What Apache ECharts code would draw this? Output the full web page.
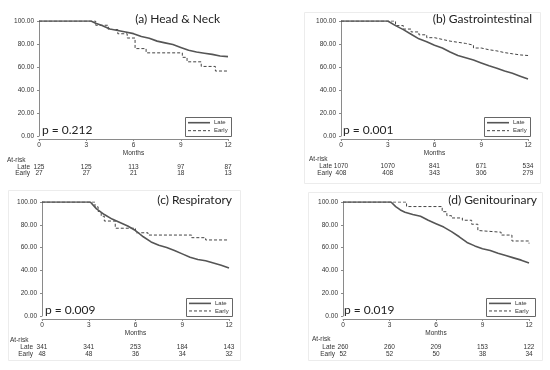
<!DOCTYPE html>
<html><head><meta charset="utf-8">
<script src="https://cdn.jsdelivr.net/npm/echarts@6/dist/echarts.min.js"></script>
<style>html,body{margin:0;padding:0;background:#fff}#c{width:550px;height:370px}</style>
</head><body><div id="c"></div>
<script>
// ---- Data ----
const panelTitles = ['(a) Head & Neck', '(b) Gastrointestinal', '(c) Respiratory', '(d) Genitourinary'];
const pValues = ['p = 0.212', 'p = 0.001', 'p = 0.009', 'p = 0.019'];
const xTicks = [0, 3, 6, 9, 12];

// (a) Head & Neck
const aLateMonths = [0, 3.3, 3.6, 4.0, 4.5, 5.0, 5.5, 6.0, 6.5, 7.0, 7.5, 8.0, 8.5, 9.0, 9.5, 10.0, 10.5, 11.0, 11.5, 12];
const aLateSurv   = [100, 100, 98, 96, 93, 91.8, 90.5, 89, 86.5, 85, 82.5, 81, 79.5, 77, 74.5, 73, 72, 71, 69.5, 69];
const aEarlyMonths = [0, 3.6, 4.4, 5.0, 5.6, 6.1, 6.8, 9.1, 9.4, 10.3, 11.2, 12];
const aEarlySurv   = [100, 96.3, 92.6, 88.9, 85.2, 76, 72.3, 68.4, 64.5, 60.5, 56.5, 56.5];
const aRiskLate  = [125, 125, 113, 97, 87];
const aRiskEarly = [27, 27, 21, 18, 13];

// (b) Gastrointestinal
const bLateMonths = [0, 3, 3.5, 4, 4.5, 5, 5.5, 6, 6.5, 7, 7.5, 8, 8.5, 9, 9.5, 10, 10.5, 11, 11.5, 12];
const bLateSurv   = [100, 100, 96, 92.5, 88.5, 84.5, 82, 79, 76.5, 73, 70, 68, 66, 63.5, 61, 59, 56.5, 54.5, 52, 49.5];
const bEarlyMonths = [0, 3, 3.5, 4, 4.5, 5, 5.5, 6, 6.5, 7, 7.5, 8, 8.5, 9, 9.5, 10, 10.5, 11, 11.5, 12];
const bEarlySurv   = [100, 100, 96, 93, 90.5, 88, 85.5, 84, 82.5, 81.5, 80.5, 79, 76.5, 75, 74, 72.5, 71.5, 70.5, 70, 68.5];
const bRiskLate  = [1070, 1070, 841, 671, 534];
const bRiskEarly = [408, 408, 343, 306, 279];

// (c) Respiratory
const cLateMonths = [0, 3.1, 3.5, 4, 4.5, 5, 5.5, 6, 6.5, 7, 7.5, 8, 8.5, 9, 9.5, 10, 10.5, 11, 11.5, 12];
const cLateSurv   = [100, 100, 94, 89, 85, 82, 79, 75, 69.5, 65, 62, 60, 57.5, 54.5, 51.5, 49.5, 48.5, 46.5, 44.5, 42];
const cEarlyMonths = [0, 3.4, 3.6, 3.8, 4.0, 4.7, 6.0, 6.8, 9.6, 10.5, 12];
const cEarlySurv   = [100, 95.8, 91.7, 87.5, 83.3, 77, 73, 71, 68.7, 66.7, 66.7];
const cRiskLate  = [341, 341, 253, 184, 143];
const cRiskEarly = [48, 48, 36, 34, 32];

// (d) Genitourinary
const dLateMonths = [0, 3.1, 3.4, 3.7, 4, 4.5, 5, 5.5, 6, 6.5, 7, 7.5, 8, 8.5, 9, 9.5, 10, 10.5, 11, 11.5, 12];
const dLateSurv   = [100, 100, 96, 93, 91, 89, 87.5, 84, 81, 78, 74, 69.5, 64.5, 61.5, 59, 57.5, 55, 53, 51, 49, 46.5];
const dEarlyMonths = [0, 4.1, 6.4, 6.7, 7.0, 7.7, 8.3, 8.7, 8.8, 10.2, 10.9, 12];
const dEarlySurv   = [100, 96, 91.5, 88, 86, 84, 80.5, 75, 73.5, 71, 65.8, 63.5];
const dRiskLate  = [260, 260, 209, 153, 122];
const dRiskEarly = [52, 52, 50, 38, 34];

const yTicks = [0, 20, 40, 60, 80, 100];

// ---- Build ----
const panels = [
  {late:[aLateMonths,aLateSurv], early:[aEarlyMonths,aEarlySurv], rl:aRiskLate, re:aRiskEarly},
  {late:[bLateMonths,bLateSurv], early:[bEarlyMonths,bEarlySurv], rl:bRiskLate, re:bRiskEarly},
  {late:[cLateMonths,cLateSurv], early:[cEarlyMonths,cEarlySurv], rl:cRiskLate, re:cRiskEarly},
  {late:[dLateMonths,dLateSurv], early:[dEarlyMonths,dEarlySurv], rl:dRiskLate, re:dRiskEarly}
];
const grids = [
  {left:39, top:21, width:189, height:115},
  {left:341, top:21, width:187, height:115},
  {left:42, top:202, width:187, height:114},
  {left:343, top:202, width:186, height:114}
];
const zip = (xs, ys) => xs.map((x, i) => [x, ys[i]]);
const axisFont = 'Liberation Sans, Arial, sans-serif';
const bigFont = 'Lato, Open Sans, sans-serif';
const axCol = '#8a8a8a';

const chart = echarts.init(document.getElementById('c'), null, {renderer:'canvas'});
const option = {
  backgroundColor:'#fff',
  animation:false,
  grid: grids,
  xAxis: grids.map((g, i) => ({
    gridIndex:i, type:'value', min:0, max:12, interval:3, offset:3,
    axisLine:{show:true, onZero:false, lineStyle:{color:axCol, width:1}},
    axisTick:{show:true, length:2, lineStyle:{color:axCol}},
    axisLabel:{fontSize:6.5, color:'#333', margin:3, fontFamily:axisFont},
    splitLine:{show:false},
    name:'Months', nameLocation:'middle', nameGap:10,
    nameTextStyle:{fontSize:6.5, color:'#333', fontFamily:axisFont}
  })),
  yAxis: grids.map((g, i) => ({
    gridIndex:i, type:'value', min:yTicks[0], max:yTicks[yTicks.length-1], interval:20, offset:3,
    axisLine:{show:true, lineStyle:{color:axCol, width:1}},
    axisTick:{show:true, length:2, lineStyle:{color:axCol}},
    axisLabel:{fontSize:6.5, color:'#333', margin:2, fontFamily:axisFont, formatter:v => v.toFixed(2)},
    splitLine:{show:false}
  })),
  series: []
};
panels.forEach((p, i) => {
  option.series.push({
    name:'Late', type:'line', xAxisIndex:i, yAxisIndex:i, data:zip(p.late[0], p.late[1]),
    showSymbol:false, symbol:'none', lineStyle:{color:'#555', width:1.6}, z:3
  });
  option.series.push({
    name:'Early', type:'line', step:'end', xAxisIndex:i, yAxisIndex:i, data:zip(p.early[0], p.early[1]),
    showSymbol:false, symbol:'none', lineStyle:{color:'#444', width:1, type:[3,2]}, z:2
  });
});
chart.setOption(option);

// ---- Annotations (positions from the axes) ----
const graphics = [];
// faint panel frames (b, c, d)
[[304,12,236,171],[8,190,232,170],[308,192,234,168]].forEach(r => graphics.push({
  type:'rect', shape:{x:r[0]+0.5, y:r[1]+0.5, width:r[2], height:r[3]}, silent:true, z:-1,
  style:{fill:'none', stroke:'#ececec', lineWidth:1}
}));
const titleRight = [220, 532, 232, 537];
const pLeft = [42, 343, 45, 344];
const legendBox = [[185,117,46,19],[484,117,46,19],[186,298,46,18],[486,298,49,18]];
const riskRows = [[160,167,173],[159,166,173],[340,347,354],[339,347,354]];
const riskLabelRight = [30, 332, 33, 335];
panels.forEach((p, i) => {
  const g = grids[i];
  const topY = chart.convertToPixel({gridIndex:i}, [0, 100])[1];
  const botY = chart.convertToPixel({gridIndex:i}, [0, 0])[1];
  graphics.push({type:'text', x:titleRight[i], y:topY - 2, style:{text:panelTitles[i], font:'12px ' + bigFont, fill:'#222', textAlign:'right', textVerticalAlign:'middle'}});
  graphics.push({type:'text', x:pLeft[i], y:botY - 6, style:{text:pValues[i], font:'12px ' + bigFont, fill:'#222', textAlign:'left', textVerticalAlign:'middle'}});
  // legend box
  const lb = legendBox[i];
  graphics.push({type:'rect', shape:{x:lb[0]+0.5, y:lb[1]+0.5, width:lb[2], height:lb[3]}, style:{fill:'#fff', stroke:'#666', lineWidth:1}, z:10});
  const r1 = lb[1] + lb[3]*0.3, r2 = lb[1] + lb[3]*0.72;
  graphics.push({type:'line', shape:{x1:lb[0]+3, y1:r1, x2:lb[0]+25, y2:r1}, style:{stroke:'#555', lineWidth:1.6}, z:11});
  graphics.push({type:'line', shape:{x1:lb[0]+3, y1:r2, x2:lb[0]+25, y2:r2}, style:{stroke:'#444', lineWidth:1, lineDash:[3,2]}, z:11});
  graphics.push({type:'text', x:lb[0]+29, y:r1, style:{text:'Late', font:'6px ' + axisFont, fill:'#333', textVerticalAlign:'middle'}, z:11});
  graphics.push({type:'text', x:lb[0]+29, y:r2, style:{text:'Early', font:'6px ' + axisFont, fill:'#333', textVerticalAlign:'middle'}, z:11});
  // at-risk table
  const rr = riskRows[i];
  graphics.push({type:'text', x:riskLabelRight[i] - 23, y:rr[0], style:{text:'At-risk', font:'6.5px ' + axisFont, fill:'#333', textAlign:'left', textVerticalAlign:'middle'}});
  graphics.push({type:'text', x:riskLabelRight[i], y:rr[1], style:{text:'Late', font:'6.5px ' + axisFont, fill:'#333', textAlign:'right', textVerticalAlign:'middle'}});
  graphics.push({type:'text', x:riskLabelRight[i], y:rr[2], style:{text:'Early', font:'6.5px ' + axisFont, fill:'#333', textAlign:'right', textVerticalAlign:'middle'}});
  xTicks.forEach((m, k) => {
    const px = chart.convertToPixel({gridIndex:i}, [m, 0])[0];
    graphics.push({type:'text', x:px, y:rr[1], style:{text:String(p.rl[k]), font:'6.5px ' + axisFont, fill:'#333', textAlign:'center', textVerticalAlign:'middle'}});
    graphics.push({type:'text', x:px, y:rr[2], style:{text:String(p.re[k]), font:'6.5px ' + axisFont, fill:'#333', textAlign:'center', textVerticalAlign:'middle'}});
  });
});
chart.setOption({graphic: graphics});
</script>
</body></html>
